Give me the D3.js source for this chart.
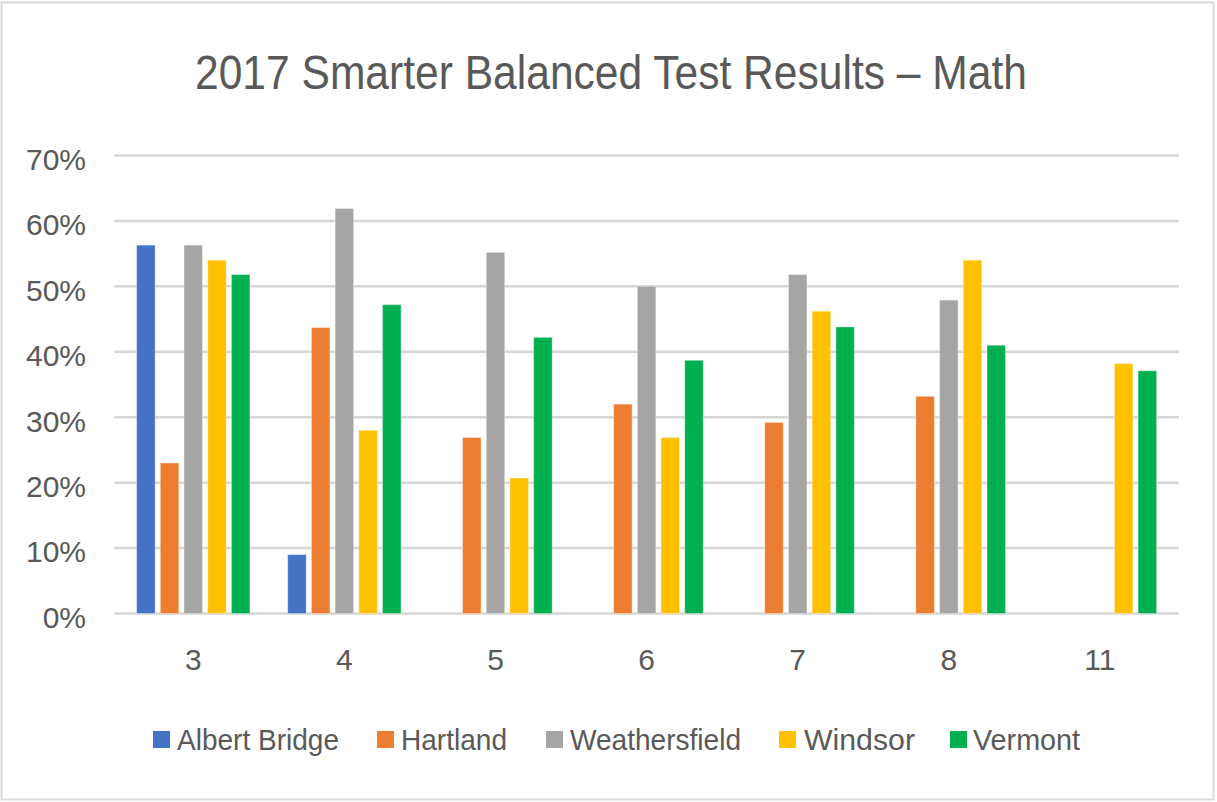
<!DOCTYPE html>
<html>
<head>
<meta charset="utf-8">
<script src="https://cdn.jsdelivr.net/npm/d3@7"></script>
<style>
  html, body { margin: 0; padding: 0; background: #ffffff; }
  svg { display: block; }
</style>
</head>
<body>
<svg id="chart" width="1217" height="802"></svg>
<script>
const title = "2017 Smarter Balanced Test Results \u2013 Math";
const categories = ["3", "4", "5", "6", "7", "8", "11"];
const seriesNames = ["Albert Bridge", "Hartland", "Weathersfield", "Windsor", "Vermont"];
const albertBridge  = [0.563, 0.09, null, null, null, null, null];
const hartland      = [0.23, 0.437, 0.269, 0.32, 0.292, 0.332, null];
const weathersfield = [0.563, 0.619, 0.552, 0.50, 0.518, 0.479, null];
const windsor       = [0.54, 0.28, 0.207, 0.269, 0.462, 0.54, 0.382];
const vermont       = [0.518, 0.472, 0.422, 0.387, 0.438, 0.41, 0.371];
const seriesValues = [albertBridge, hartland, weathersfield, windsor, vermont];
const colors = ["#4472C4", "#ED7D31", "#A5A5A5", "#FFC000", "#00B050"];
const yTicks = [0, 0.1, 0.2, 0.3, 0.4, 0.5, 0.6, 0.7];

const svg = d3.select("#chart");
const textColor = "#595959";

// chart border
svg.append("rect")
  .attr("x", 1.5).attr("y", 2.5).attr("width", 1212).attr("height", 797)
  .attr("fill", "#ffffff").attr("stroke", "#d9d9d9").attr("stroke-width", 2);

// title
svg.append("text")
  .attr("x", 611).attr("y", 89)
  .attr("text-anchor", "middle")
  .attr("font-family", "'Liberation Sans', Arial, sans-serif")
  .attr("font-size", 48)
  .attr("fill", textColor)
  .attr("textLength", 832).attr("lengthAdjust", "spacingAndGlyphs")
  .text(title);

const plotLeft = 117.7, plotRight = 1175.5;
const x0 = d3.scaleBand().domain(categories).range([plotLeft, plotRight]).padding(0);
const y = d3.scaleLinear().domain([0, 0.7]).range([613.5, 155.5]);

const groupWidth = 113.3;
const x1 = d3.scaleBand().domain(seriesNames).range([0, groupWidth]).paddingInner(0.22).paddingOuter(0);

// gridlines
svg.append("g").selectAll("line").data(yTicks).join("line")
  .attr("x1", plotLeft - 3.5).attr("x2", plotRight + 3.5)
  .attr("y1", d => y(d)).attr("y2", d => y(d))
  .attr("stroke", "#d6d6d6").attr("stroke-width", 2.5);

// y axis labels
const yAxis = d3.axisLeft(y).tickValues(yTicks).tickFormat(d3.format(".0%")).tickSize(0).tickPadding(0);
const yg = svg.append("g").attr("transform", "translate(86,0)").call(yAxis);
yg.select(".domain").remove();
yg.selectAll("text")
  .attr("font-family", "'Liberation Sans', Arial, sans-serif")
  .attr("font-size", 30)
  .attr("fill", textColor)
  .attr("dy", "0.38em")
  .attr("transform", "translate(0,2.5)");

// x axis labels
const xAxis = d3.axisBottom(x0).tickSize(0).tickPadding(0);
const xg = svg.append("g").attr("transform", "translate(0,649)").call(xAxis);
xg.select(".domain").remove();
xg.selectAll("text")
  .attr("font-family", "'Liberation Sans', Arial, sans-serif")
  .attr("font-size", 30)
  .attr("fill", textColor)
  .attr("dy", "0.71em");

// bars
const barData = [];
categories.forEach((c, i) => {
  seriesNames.forEach((s, j) => {
    const v = seriesValues[j][i];
    if (v !== null && v !== undefined) barData.push({ c, s, v, color: colors[j] });
  });
});
const offset = (x0.bandwidth() - groupWidth) / 2;
svg.append("g").selectAll("rect").data(barData).join("rect")
  .attr("x", d => x0(d.c) + offset + x1(d.s))
  .attr("width", x1.bandwidth())
  .attr("y", d => y(d.v))
  .attr("height", d => y(0) - y(d.v))
  .attr("fill", d => d.color)
  .attr("stroke", "#ffffff").attr("stroke-opacity", 0.35).attr("stroke-width", 1);

// legend
const legendItems = [
  { name: seriesNames[0], sx: 153, tx: 177, tw: 162 },
  { name: seriesNames[1], sx: 377, tx: 401, tw: 106 },
  { name: seriesNames[2], sx: 546, tx: 570, tw: 171 },
  { name: seriesNames[3], sx: 779, tx: 804, tw: 111 },
  { name: seriesNames[4], sx: 950, tx: 973, tw: 107 }
];
const lg = svg.append("g");
legendItems.forEach((it, i) => {
  lg.append("rect").attr("x", it.sx).attr("y", 731).attr("width", 17).attr("height", 17).attr("fill", colors[i]);
  lg.append("text")
    .attr("x", it.tx).attr("y", 750)
    .attr("font-family", "'Liberation Sans', Arial, sans-serif")
    .attr("font-size", 29)
    .attr("fill", textColor)
    .attr("textLength", it.tw).attr("lengthAdjust", "spacingAndGlyphs")
    .text(it.name);
});
</script>
</body>
</html>
